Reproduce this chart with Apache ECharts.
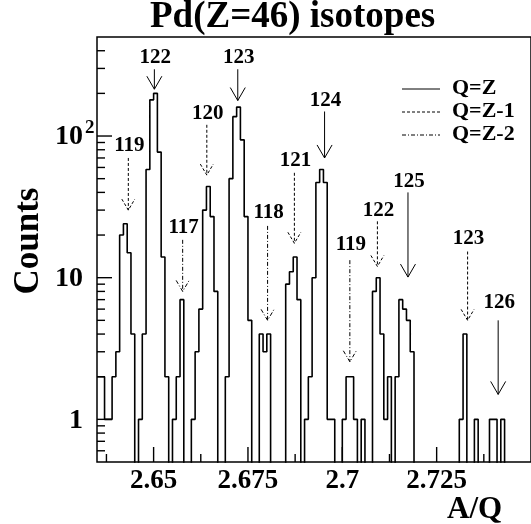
<!DOCTYPE html>
<html>
<head>
<meta charset="utf-8">
<script src="https://cdn.jsdelivr.net/npm/echarts@6/dist/echarts.min.js"></script>
<style>
html, body { margin: 0; padding: 0; background: #fff; }
#chart { width: 531px; height: 524px; }
</style>
</head>
<body>
<div id="chart"></div>
<script>
// histogram: bins of 0.001 in A/Q starting at 2.635
const binStart = 2.635;
const binWidth = 0.001;
const counts = [
  2, 2, 1, 1, 2, 3, 20, 24, 15, 4,
  0, 1, 4, 58, 180, 200, 77, 14, 2, 0,
  1, 2, 7, 0, 0, 1, 3, 6, 30, 44,
  27, 8, 0, 0, 2, 50, 137, 160, 94, 27,
  5, 0, 0, 4, 3, 4, 0, 0, 0, 0,
  9, 11, 14, 7, 0, 1, 2, 10, 47, 58,
  47, 1, 1, 0, 0, 1, 2, 2, 1, 0,
  1, 0, 0, 8, 10, 4, 1, 2, 0, 2,
  7, 6, 5, 3, 0, 0, 0, 0, 0, 0,
  0, 0, 0, 0, 0, 0, 1, 4, 0, 0,
  1, 0, 0, 0, 1, 1, 0, 1, 0, 0,
  0, 0, 0, 0, 0
];

// axis ranges and ticks
const xMin = 2.635, xMax = 2.75;
const yMin = 0.5, yMax = 500;
const xMajorTicks = [2.65, 2.675, 2.7, 2.725];
const xTickLabels = ['2.65', '2.675', '2.7', '2.725'];
const xMinorTicks = [2.6375, 2.6625, 2.6875, 2.7125, 2.7375];
const yMajorTicks = [1, 10, 100];
const yTickLabels = ['1', '10', '10'];
const yTickSup = ['', '', '2'];
const yMinorTicks = [0.6, 0.7, 0.8, 0.9, 2, 3, 4, 5, 6, 7, 8, 9,
  20, 30, 40, 50, 60, 70, 80, 90, 200, 300, 400];

// isotope markers: label, charge state, A/Q position, label height, arrow top, arrow tip (counts)
const peakNames  = ['122', '123', '124', '125', '126', '119', '120', '121', '122', '123', '117', '118', '119'];
const peakCharge = [0, 0, 0, 0, 0, 1, 1, 1, 1, 1, 2, 2, 2];
const peakX      = [2.6502, 2.6723, 2.6953, 2.7174, 2.7413, 2.6433, 2.6641, 2.6873, 2.7093, 2.7332, 2.6577, 2.6802, 2.7020];
const peakTextY  = [356, 356, 177, 48, 6.7, 85, 145, 67, 30, 19, 22.6, 28.6, 17.1];
const peakTop    = [296, 296, 149, 40, 5.0, 70, 120, 55, 25, 15.3, 18.5, 23.2, 13.3];
const peakTip    = [214, 178, 70, 10.1, 1.5, 30, 53, 17.5, 12, 5.0, 8.0, 5.0, 2.55];

const chargeNames = ['Q=Z', 'Q=Z-1', 'Q=Z-2'];
const chargeDash = [null, [3, 2], [4, 2, 1, 2]];

const serif = '"Liberation Serif", "Times New Roman", serif';

const histData = counts.map((c, i) => [binStart + i * binWidth, c > 0 ? c : 0.05]);
histData.push([binStart + counts.length * binWidth, counts[counts.length - 1] > 0 ? counts[counts.length - 1] : 0.05]);

const chart = echarts.init(document.getElementById('chart'));

function renderAxes(params, api) {
  const children = [];
  const tick = (x1, y1, x2, y2) => children.push({
    type: 'line', shape: { x1, y1, x2, y2 }, style: { stroke: '#000', lineWidth: 1.4 }
  });
  xMajorTicks.forEach((v, i) => {
    const p = api.coord([v, yMin]);
    tick(p[0], p[1], p[0], p[1] - 15);
    children.push({ type: 'text', style: {
      text: xTickLabels[i], x: p[0], y: p[1] + 19, textAlign: 'center', textVerticalAlign: 'middle',
      font: 'bold 27px ' + serif, fill: '#000' } });
  });
  xMinorTicks.forEach(v => {
    const p = api.coord([v, yMin]);
    tick(p[0], p[1], p[0], p[1] - 8);
  });
  yMajorTicks.forEach((v, i) => {
    const p = api.coord([xMin, v]);
    tick(p[0], p[1], p[0] + 15, p[1]);
    children.push({ type: 'text', style: {
      text: yTickLabels[i], x: p[0] - 14, y: p[1] + 1, textAlign: 'right', textVerticalAlign: 'middle',
      font: 'bold 28px ' + serif, fill: '#000' } });
    if (yTickSup[i]) {
      children.push({ type: 'text', style: {
        text: yTickSup[i], x: p[0] - 12, y: p[1] - 8, textAlign: 'left', textVerticalAlign: 'middle',
        font: 'bold 19px ' + serif, fill: '#000' } });
    }
  });
  yMinorTicks.forEach(v => {
    const p = api.coord([xMin, v]);
    tick(p[0], p[1], p[0] + 8, p[1]);
  });
  return { type: 'group', children };
}

function renderArrow(params, api) {
  const i = params.dataIndex;
  const x = api.value(0);
  const t = api.coord([x, api.value(1)]);
  const a = api.coord([x, api.value(2)]);
  const b = api.coord([x, api.value(3)]);
  const dash = chargeDash[peakCharge[i]];
  const hw = peakCharge[i] === 0 ? 7.5 : 6.5;
  const hh = peakCharge[i] === 0 ? 13 : 11;
  const style = { stroke: '#000', lineWidth: 1, fill: null, lineDash: dash };
  return { type: 'group', children: [
    { type: 'text', style: {
      text: peakNames[i], x: t[0] + 1, y: t[1], textAlign: 'center', textVerticalAlign: 'middle',
      font: 'bold 21px ' + serif, fill: '#000' } },
    { type: 'line', shape: { x1: a[0], y1: a[1], x2: b[0], y2: b[1] }, style },
    { type: 'polyline', shape: { points: [[b[0] - hw, b[1] - hh], [b[0], b[1]], [b[0] + hw, b[1] - hh]] }, style }
  ] };
}

const legendGraphics = [];
chargeNames.forEach((name, i) => {
  const y = 89 + i * 23;
  legendGraphics.push({ type: 'line', shape: { x1: 402, y1: y, x2: 440, y2: y },
    style: { stroke: '#000', lineWidth: 1, lineDash: chargeDash[i] } });
  legendGraphics.push({ type: 'text', left: 452, top: y - 12,
    style: { text: name, font: 'bold 22px ' + serif, fill: '#000' } });
});

const option = {
  animation: false,
  backgroundColor: '#fff',
  grid: { left: 97, top: 37, width: 438, height: 425, show: true, borderColor: '#000', borderWidth: 1.5, backgroundColor: 'transparent' },
  xAxis: {
    type: 'value', min: xMin, max: xMax,
    axisLine: { show: false }, axisTick: { show: false }, axisLabel: { show: false }, splitLine: { show: false }
  },
  yAxis: {
    type: 'log', logBase: 10, min: yMin, max: yMax,
    axisLine: { show: false }, axisTick: { show: false }, axisLabel: { show: false }, splitLine: { show: false },
    minorTick: { show: false }, minorSplitLine: { show: false }
  },
  graphic: [
    { type: 'text', left: 150, top: -1,
      style: { text: 'Pd(Z=46) isotopes', font: 'bold 37px ' + serif, fill: '#000' } },
    { type: 'text', left: 447, top: 494,
      style: { text: 'A/Q', font: 'bold 31px ' + serif, fill: '#000' } },
    { type: 'text', x: 29, y: 241, rotation: Math.PI / 2,
      style: { text: 'Counts', font: 'bold 35px ' + serif, fill: '#000', textAlign: 'center', textVerticalAlign: 'middle' } }
  ].concat(legendGraphics),
  series: [
    {
      type: 'line', data: histData, step: 'end', symbol: 'none', clip: true,
      lineStyle: { color: '#000', width: 1.6 }, silent: true
    },
    {
      type: 'custom', data: [[2.69, 1]], renderItem: renderAxes, clip: false, silent: true
    },
    {
      type: 'custom', renderItem: renderArrow, clip: false, silent: true,
      data: peakX.map((x, i) => [x, peakTextY[i], peakTop[i], peakTip[i]])
    }
  ]
};

chart.setOption(option);
window.addEventListener('resize', () => chart.resize());
</script>
</body>
</html>
